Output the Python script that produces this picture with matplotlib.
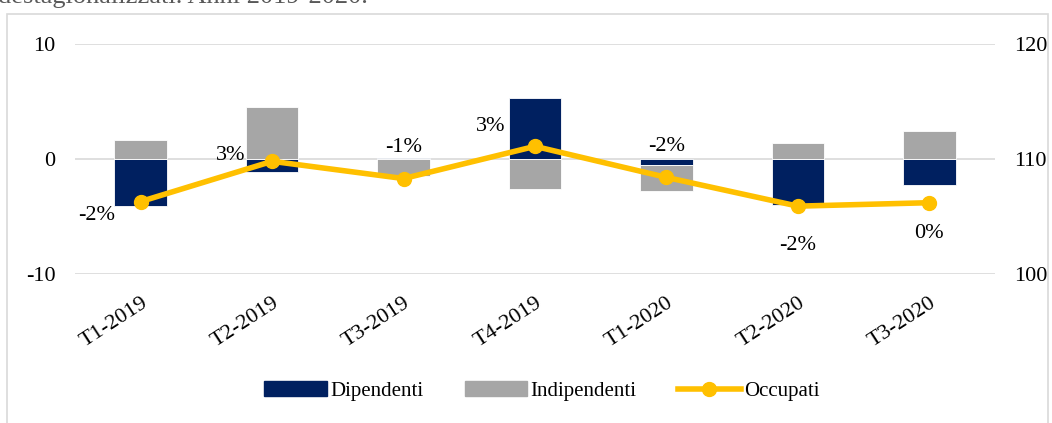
import numpy as np
import matplotlib.pyplot as plt
from matplotlib.patches import Rectangle
from matplotlib.lines import Line2D

plt.rcParams['font.family'] = ['Liberation Serif', 'DejaVu Serif']
plt.rcParams['axes.unicode_minus'] = False

trimestri = ["T1-2019", "T2-2019", "T3-2019", "T4-2019", "T1-2020", "T2-2020", "T3-2020"]
dipendenti = [-4.1, -1.1, 0.05, 5.3, -0.5, -4.0, -2.3]
indipendenti = [1.65, 4.5, -1.5, -2.6, -2.3, 1.4, 2.4]
occupati = [106.3, 109.8, 108.3, 111.1, 108.4, 105.9, 106.2]
etichette = ["-2%", "3%", "-1%", "3%", "-2%", "-2%", "0%"]

navy = "#002060"
grigio = "#a6a6a6"
oro = "#ffc000"

fig = plt.figure(figsize=(10.52, 4.23), dpi=100)
# cornice del grafico
fig.patches.append(Rectangle((7 / 1052, -0.1), 1041 / 1052, 1.1 - 14 / 423,
                             transform=fig.transFigure, fill=False,
                             edgecolor="#d9d9d9", linewidth=1.2))
fig.text(-0.002, 1 - 3 / 423, "destagionalizzati. Anni 2019-2020.", fontsize=19,
         color="#595959", va="baseline")

ax = fig.add_axes([75 / 1052, 1 - 274 / 423, 920 / 1052, 230 / 423])
x = np.arange(len(trimestri))

# impilamento stile excel: positivi e negativi separati
dip = np.array(dipendenti)
ind = np.array(indipendenti)
base_ind = np.where(ind >= 0, np.clip(dip, 0, None), np.clip(dip, None, 0))
ax.bar(x, dip, width=0.4, color=navy, edgecolor="white", linewidth=0.6, zorder=2)
ax.bar(x, ind, width=0.4, bottom=base_ind, color=grigio, edgecolor="white", linewidth=0.6, zorder=2)

ax.set_ylim(-10, 10)
ax.set_yticks([-10, 0, 10])
ax.set_xlim(-0.5, 6.5)
ax.set_xticks(x)
ax.set_xticklabels(trimestri, rotation=33, ha="right", rotation_mode="anchor", fontsize=16)
ax.tick_params(axis="y", labelsize=16, length=0, pad=14)
ax.tick_params(axis="x", length=0, pad=14)
for s in ax.spines.values():
    s.set_visible(False)
ax.grid(axis="y", color="#d9d9d9", linewidth=1.2, zorder=0)
ax.set_axisbelow(True)

ax2 = ax.twinx()
ax2.plot(x, occupati, color=oro, linewidth=4, marker="o", markersize=10, zorder=3)
ax2.set_ylim(100, 120)
ax2.set_yticks([100, 110, 120])
ax2.tick_params(axis="y", labelsize=16, length=0, pad=14)
for s in ax2.spines.values():
    s.set_visible(False)

posizioni = [(-32, -10), (-30, 4), (0, 22), (-32, 14), (0, 22), (0, -28), (0, -22)]
for xi, yi, t, (dx, dy) in zip(x, occupati, etichette, posizioni):
    ax2.annotate(t, (xi, yi), xytext=(dx, dy), textcoords="offset points",
                 ha="center", va="center", fontsize=16)

maniglie = [Rectangle((0, 0), 1, 1, color=navy), Rectangle((0, 0), 1, 1, color=grigio),
            Line2D([0], [0], color=oro, linewidth=4, marker="o", markersize=10)]
fig.legend(maniglie, ["Dipendenti", "Indipendenti", "Occupati"], loc="center",
           bbox_to_anchor=(0.515, 1 - 391 / 423), ncol=3, frameon=False, fontsize=15,
           handlelength=3.0, handletextpad=0.15, columnspacing=2.0)

fig.savefig("out.png", dpi=100)
